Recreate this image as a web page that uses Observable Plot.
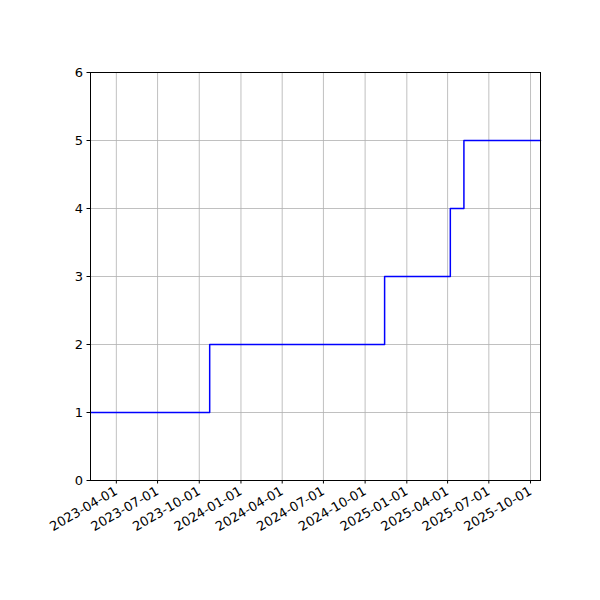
<!DOCTYPE html>
<html><head><meta charset="utf-8">
<script src="https://cdn.jsdelivr.net/npm/d3@7"></script>
<script src="https://cdn.jsdelivr.net/npm/@observablehq/plot@0.6"></script>
<style>body{margin:0;background:#fff;} svg{font-family:"DejaVu Sans";}</style>
</head><body><div id="chart"></div>
<script>
const dates = ["2023-02-03","2023-10-24","2024-11-13","2025-04-07","2025-05-07","2025-10-23"];
const values = [1,2,3,4,5,5];
const xTicks = ["2023-04-01","2023-07-01","2023-10-01","2024-01-01","2024-04-01","2024-07-01","2024-10-01","2025-01-01","2025-04-01","2025-07-01","2025-10-01"];
const yTicks = [0,1,2,3,4,5,6];

const parse = d3.utcParse("%Y-%m-%d");
const data = dates.map((d,i)=>({date: parse(d), value: values[i]}));
const xt = xTicks.map(parse);

const chart = Plot.plot({
  width: 600, height: 600,
  marginLeft: 90, marginRight: 60, marginTop: 72, marginBottom: 120,
  style: {fontFamily: "DejaVu Sans", fontSize: "13px", color: "black", background: "white"},
  x: {type: "utc", domain: [parse(dates[0]), parse(dates[dates.length-1])]},
  y: {domain: [0, 6]},
  marks: [
    Plot.gridX(xt, {stroke: "#b0b0b0", strokeOpacity: 1, strokeWidth: 0.8}),
    Plot.gridY(yTicks, {stroke: "#b0b0b0", strokeOpacity: 1, strokeWidth: 0.8}),
    Plot.line(data, {x: "date", y: "value", curve: "step-after", stroke: "blue", strokeWidth: 1.5}),
    Plot.frame({stroke: "black", strokeWidth: 1}),
    Plot.axisX(xt, {tickFormat: d3.utcFormat("%Y-%m-%d"), tickRotate: -30, tickSize: 3.5, tickPadding: 6, label: null, fontSize: 13}),
    Plot.axisY(yTicks, {tickFormat: d3.format("d"), tickSize: 3.5, tickPadding: 4, label: null, fontSize: 13})
  ]
});
document.getElementById("chart").appendChild(chart);
</script></body></html>
